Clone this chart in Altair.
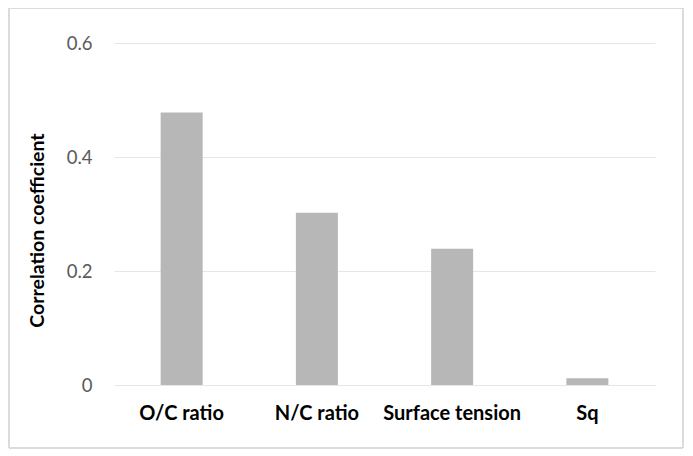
import altair as alt
import pandas as pd

categories = ["O/C ratio", "N/C ratio", "Surface tension", "Sq"]
values = [0.478, 0.302, 0.239, 0.012]

df = pd.DataFrame({"cat": categories, "val": values})

FONT = "Lato"

bars = alt.Chart(df).mark_bar(color="#B7B7B7", size=42).encode(
    x=alt.X("cat:N", sort=categories, title=None,
            scale=alt.Scale(paddingInner=0, paddingOuter=0),
            axis=alt.Axis(labelAngle=0, domain=False, ticks=False, labelPadding=18,
                          labelFont=FONT, labelFontSize=20, labelFontWeight="bold",
                          labelColor="#000000", grid=False)),
    y=alt.Y("val:Q", title="Correlation coefficient",
            scale=alt.Scale(domain=[0, 0.6]),
            axis=alt.Axis(values=[0, 0.2, 0.4, 0.6], format="~g", domain=False, ticks=False,
                          labelPadding=22, labelFont=FONT, labelFontSize=18.5,
                          labelColor="#595959", gridColor="#E6E6E6", gridWidth=1,
                          titleFont=FONT, titleFontSize=19.5, titleFontWeight="bold",
                          titleColor="#000000", titlePadding=19, titleY=187)),
)

frame = alt.Chart(df).mark_rect(fill=None, stroke="#D9D9D9", strokeWidth=1).encode(
    x=alt.value(-105), x2=alt.value(569), y=alt.value(-35), y2=alt.value(405)
)

chart = alt.layer(frame, bars).properties(
    width=541, height=342,
    autosize=alt.AutoSizeParams(type="none"),
    padding={"left": 106, "top": 35, "right": 30, "bottom": 70},
).configure_view(stroke=None)

chart.save("out.html", embed_options={"renderer": "svg", "actions": False})
